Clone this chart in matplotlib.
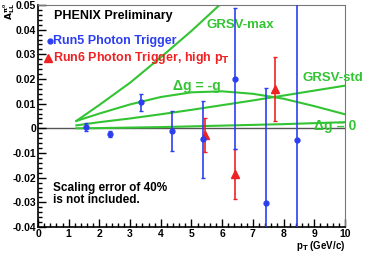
import matplotlib
matplotlib.use("Agg")
import matplotlib.pyplot as plt
from matplotlib.ticker import MultipleLocator

plt.rcParams["font.family"] = ["Liberation Sans", "DejaVu Sans"]
plt.rcParams["font.weight"] = "bold"
plt.rcParams["mathtext.default"] = "bf"

# Run5 photon trigger
run5_pt = [1.55, 2.33, 3.35, 4.38, 5.39, 6.41, 7.43, 8.44]
run5_all = [0.0005, -0.0022, 0.0105, -0.0011, -0.0045, 0.0201, -0.0301, -0.0048]
run5_err = [0.0015, 0.0012, 0.0035, 0.0082, 0.0157, 0.0286, 0.0465, 0.07]

# Run6 photon trigger, high pT
run6_pt = [5.45, 6.43, 7.73]
run6_all = [-0.0027, -0.0184, 0.016]
run6_err = [0.007, 0.0102, 0.0129]

# theory curves
curve_pt = [1.25, 2, 3, 4, 5, 6, 7, 8, 9, 10]
grsv_max = [0.003, 0.0095, 0.0185, 0.0288, 0.0395, 0.051, 0.063, 0.075, 0.087, 0.099]
dg_neg = [0.003, 0.006, 0.0097, 0.0127, 0.0146, 0.015, 0.014, 0.012, 0.009, 0.0057]
grsv_std = [0.0012, 0.0025, 0.004, 0.0057, 0.0075, 0.0094, 0.0113, 0.0133, 0.0153, 0.0173]
dg_zero = [0.0, 0.0001, 0.0003, 0.0005, 0.0008, 0.0011, 0.0014, 0.0017, 0.0021, 0.0025]

green = "#33c433"
blue = "#2b3ff0"
red = "#ee2222"

fig = plt.figure(figsize=(3.74, 2.54), dpi=100)
ax = fig.add_axes([38 / 374, 27 / 254, 307 / 374, 222 / 254])

ax.axhline(0, color="#555555", lw=1.0, zorder=1)
for y in [grsv_max, dg_neg, grsv_std, dg_zero]:
    ax.plot(curve_pt, y, color=green, lw=1.5, zorder=2)

ax.errorbar(run5_pt, run5_all, yerr=run5_err, fmt="o", color=blue, ms=3.5,
            lw=1.2, capsize=1.5, capthick=1.0, zorder=4)
ax.errorbar(run6_pt, run6_all, yerr=run6_err, fmt="^", color=red, ms=6,
            lw=1.2, capsize=1.5, capthick=1.0, zorder=3)

ax.set_xlim(0, 10)
ax.set_ylim(-0.04, 0.05)
ax.set_xticks(range(0, 11))
ax.set_yticks([-0.04, -0.03, -0.02, -0.01, 0, 0.01, 0.02, 0.03, 0.04, 0.05])
ax.set_yticklabels(["-0.04", "-0.03", "-0.02", "-0.01", "0", "0.01", "0.02",
                    "0.03", "0.04", "0.05"])
ax.xaxis.set_minor_locator(MultipleLocator(0.2))
ax.yaxis.set_minor_locator(MultipleLocator(0.002))
ax.tick_params(which="both", direction="in", top=False, right=False,
               labelsize=7.5, color="black", width=1.0, pad=1.5)
ax.tick_params(which="major", length=6)
ax.tick_params(which="minor", length=3)
for s in ["top", "right"]:
    ax.spines[s].set_color("#777777")
for s in ["bottom", "left"]:
    ax.spines[s].set_color("black")
    ax.spines[s].set_linewidth(1.2)

ax.text(0.51, 0.0456, "PHENIX Preliminary", fontsize=9, va="center")
ax.plot([0.38], [0.0354], "o", color=blue, ms=3.5, clip_on=False)
ax.text(0.5, 0.0354, "Run5 Photon Trigger", fontsize=9, color=blue, va="center")
ax.plot([0.34], [0.0286], "^", color=red, ms=6, clip_on=False)
ax.text(0.5, 0.0284, "Run6 Photon Trigger, high p$_\\mathbf{T}$", fontsize=9,
        color=red, va="center")
ax.text(5.5, 0.0419, "GRSV-max", fontsize=9.5, color=green, va="center")
ax.text(4.4, 0.0173, "Δg = -g", fontsize=10, color=green, va="center")
ax.text(8.62, 0.0206, "GRSV-std", fontsize=9.5, color=green, va="center",
        clip_on=False)
ax.text(9.0, 0.0008, "Δg = 0", fontsize=10, color=green, va="center",
        clip_on=False)
ax.text(0.48, -0.0268, "Scaling error of 40%\nis not included.", fontsize=8.5,
        va="center", linespacing=1.0)

fig.text(345 / 374, 1 / 254, "p$_\\mathbf{T}$ (GeV/c)", fontsize=7,
         ha="right", va="bottom")
fig.text(1 / 374, 1 - 3 / 254, "$A_{LL}^{\\pi^0}$", fontsize=6.5, rotation=90,
         ha="left", va="top")

fig.savefig("out.png", dpi=100, facecolor="white")
